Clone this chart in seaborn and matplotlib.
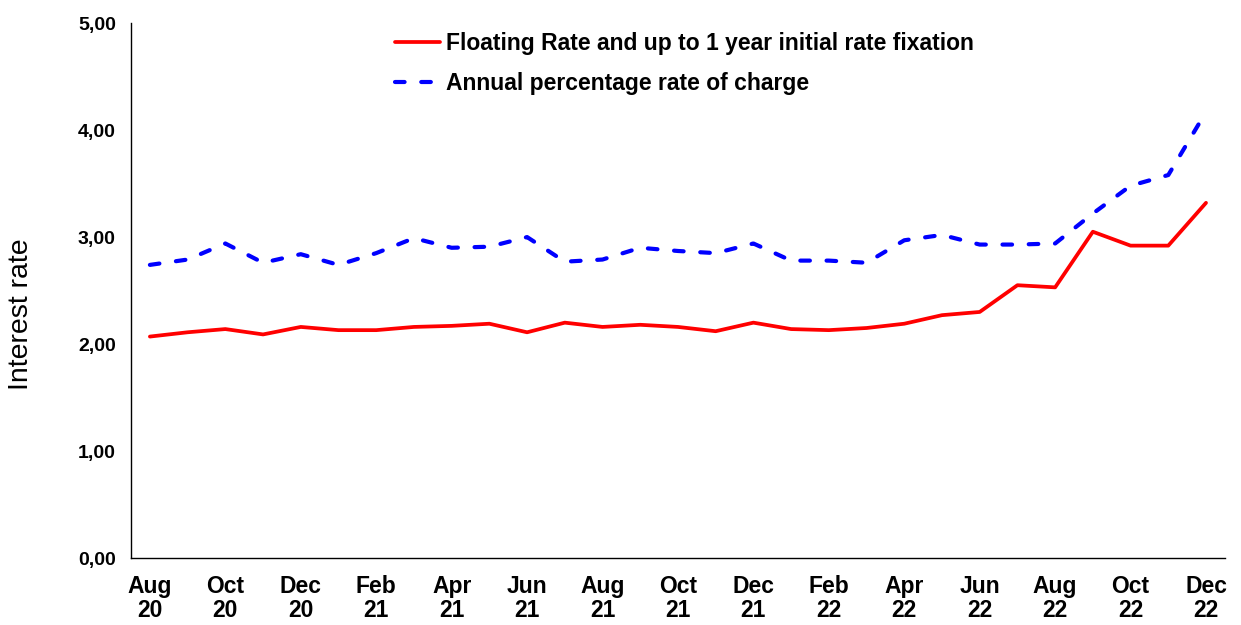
import numpy as np
import pandas as pd
import matplotlib
matplotlib.use("Agg")
import matplotlib.pyplot as plt
from matplotlib.ticker import FuncFormatter, FixedLocator
import seaborn as sns

# Data (monthly, Aug 2020 - Dec 2022)
months = ['Aug 20', 'Sep 20', 'Oct 20', 'Nov 20', 'Dec 20', 'Jan 21', 'Feb 21', 'Mar 21',
          'Apr 21', 'May 21', 'Jun 21', 'Jul 21', 'Aug 21', 'Sep 21', 'Oct 21', 'Nov 21',
          'Dec 21', 'Jan 22', 'Feb 22', 'Mar 22', 'Apr 22', 'May 22', 'Jun 22', 'Jul 22',
          'Aug 22', 'Sep 22', 'Oct 22', 'Nov 22', 'Dec 22']
floating_rate = [2.07, 2.11, 2.14, 2.09, 2.16, 2.13, 2.13, 2.16, 2.17, 2.19, 2.11, 2.20,
                 2.16, 2.18, 2.16, 2.12, 2.20, 2.14, 2.13, 2.15, 2.19, 2.27, 2.30, 2.55,
                 2.53, 3.05, 2.92, 2.92, 3.32]
apr_charge = [2.74, 2.79, 2.94, 2.76, 2.84, 2.74, 2.85, 2.99, 2.90, 2.91, 3.00, 2.77,
              2.79, 2.90, 2.87, 2.85, 2.94, 2.78, 2.78, 2.76, 2.97, 3.02, 2.93, 2.93,
              2.94, 3.22, 3.48, 3.58, 4.17]
label_floating = 'Floating Rate and up to 1 year initial rate fixation'
label_apr = 'Annual percentage rate of charge'

sns.set_style("white")
plt.rcParams['font.family'] = ['Liberation Sans', 'DejaVu Sans']
plt.rcParams['text.color'] = 'black'
plt.rcParams['axes.labelcolor'] = 'black'
plt.rcParams['xtick.color'] = 'black'
plt.rcParams['ytick.color'] = 'black'

df = pd.DataFrame({'idx': np.arange(len(months)),
                   label_floating: floating_rate,
                   label_apr: apr_charge})
long_df = df.melt(id_vars='idx', var_name='series', value_name='rate')

fig = plt.figure(figsize=(12.41, 6.25), dpi=100)
ax = fig.add_axes([0.1056, 0.1072, 0.8814, 0.8558])

sns.lineplot(data=long_df, x='idx', y='rate', hue='series', style='series',
             palette={label_floating: '#ff0000', label_apr: '#0000ff'},
             dashes={label_floating: '', label_apr: (2.3, 4.0)},
             size='series', sizes={label_floating: 2.7, label_apr: 3.0},
             ax=ax)
for line in ax.get_lines():
    line.set_dash_capstyle('round')
    line.set_solid_capstyle('round')

ax.set_xlim(-0.5, len(months) - 0.5)
ax.set_ylim(0, 5)

# x axis: labels every two months, tick marks between categories
ax.xaxis.set_major_locator(FixedLocator(np.arange(0, len(months), 2)))
ax.set_xticklabels([m.replace(' ', '\n') for m in months[::2]],
                   fontsize=16.5, fontweight='bold', linespacing=1.08)
ax.xaxis.set_minor_locator(FixedLocator(np.arange(-0.5, len(months), 1)))
ax.tick_params(axis='x', which='major', length=0, pad=12)
ax.tick_params(axis='x', which='minor', length=7, width=1, color='black', direction='out')

ax.set_yticks(np.arange(0, 5.01, 1))
ax.yaxis.set_major_formatter(FuncFormatter(lambda v, p: f'{v:.2f}'.replace('.', ',')))
for t in ax.get_yticklabels():
    t.set_fontweight('bold')
    t.set_fontsize(14)
ax.tick_params(axis='y', length=0, pad=11)

ax.set_xlabel('')
ax.set_ylabel('Interest rate', fontsize=20.5)
ax.yaxis.set_label_coords(-0.089, 0.456)

for s in ['top', 'right']:
    ax.spines[s].set_visible(False)
for s in ['left', 'bottom']:
    ax.spines[s].set_color('black')
    ax.spines[s].set_linewidth(1)

handles, labels = ax.get_legend_handles_labels()
leg = ax.legend(handles, labels, loc='upper left', bbox_to_anchor=(0.222, 1.022),
                frameon=False, handlelength=2.0, handletextpad=0.25, labelspacing=0.75,
                prop={'size': 16.5, 'weight': 'bold'})
for h in leg.get_lines():
    h.set_dash_capstyle('round')

fig.savefig('out.png', dpi=100)
